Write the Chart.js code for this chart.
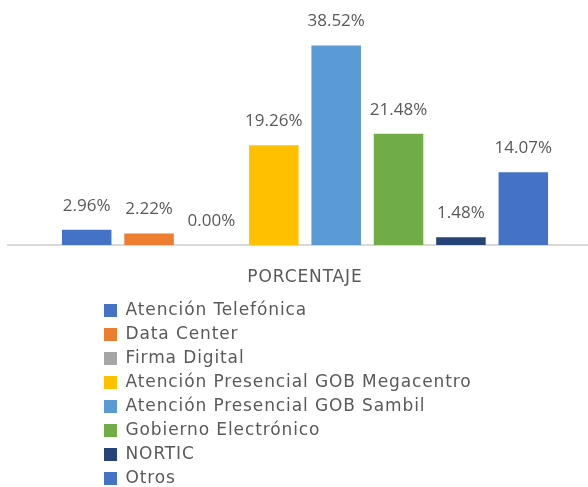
<!DOCTYPE html>
<html>
<head>
<meta charset="utf-8">
<script src="https://cdn.jsdelivr.net/npm/chart.js@4/dist/chart.umd.min.js"></script>
<style>
  html, body { margin: 0; padding: 0; background: #ffffff; overflow: hidden; }
  #wrap { width: 602px; height: 497px; }
</style>
</head>
<body>
<div id="wrap"><canvas id="c" width="602" height="497"></canvas></div>
<script>
// ---- data ----
const categories = ['PORCENTAJE'];
const seriesNames = [
  'Atención Telefónica',
  'Data Center',
  'Firma Digital',
  'Atención Presencial GOB Megacentro',
  'Atención Presencial GOB Sambil',
  'Gobierno Electrónico',
  'NORTIC',
  'Otros'
];
const seriesValues = [2.96, 2.22, 0.00, 19.26, 38.52, 21.48, 1.48, 14.07];
const seriesColors = ['#4472C4', '#ED7D31', '#A5A5A5', '#FFC000', '#5B9BD5', '#70AD47', '#264478', '#4472C4'];

const FONT = 'DejaVu Sans';
const LABEL_FONT = 'Open Sans';
const TEXT = '#595959';
const LEGEND_SIZE = 17;

// letter spacing so the legend text is as wide as in the reference
const mctx = document.createElement('canvas').getContext('2d');
mctx.font = LEGEND_SIZE + 'px "' + FONT + '"';
const longest = 'Atención Presencial GOB Megacentro';
const LS = Math.max(0, Math.min(1.5, (346 - mctx.measureText(longest).width) / longest.length));

const datasets = seriesNames.map((name, i) => ({
  label: name,
  data: [seriesValues[i]],
  backgroundColor: seriesColors[i],
  borderWidth: 0
}));

// value labels above bars
const valueLabels = {
  id: 'valueLabels',
  afterDatasetsDraw(chart) {
    const ctx = chart.ctx;
    ctx.save();
    if ('letterSpacing' in ctx) ctx.letterSpacing = '0px';
    ctx.font = '17px "' + LABEL_FONT + '"';
    ctx.fillStyle = TEXT;
    ctx.textAlign = 'center';
    ctx.textBaseline = 'middle';
    chart.data.datasets.forEach((ds, i) => {
      const meta = chart.getDatasetMeta(i);
      meta.data.forEach((bar, j) => {
        ctx.fillText(ds.data[j].toFixed(2) + '%', bar.x, bar.y - 24);
      });
    });
    ctx.restore();
  }
};

// one legend entry per row, left aligned; tracked text
const oneColumnLegend = {
  id: 'oneColumnLegend',
  beforeLayout(chart) {
    const lg = chart.legend;
    if (!lg || lg.__oneCol) return;
    lg.__oneCol = true;
    const fitRows = lg._fitRows;
    lg._fitRows = function (...args) {
      const save = this.maxWidth;
      this.maxWidth = 1;
      const h = fitRows.apply(this, args);
      this.maxWidth = save;
      return h;
    };
    const draw = lg._draw;
    lg._draw = function (...args) {
      const l = this.left, r = this.right;
      this.left = 104 - this.options.labels.padding;
      this.right = this.left + 1;
      draw.apply(this, args);
      this.left = l; this.right = r;
    };
  },
  beforeDraw(chart) {
    if ('letterSpacing' in chart.ctx) chart.ctx.letterSpacing = LS.toFixed(2) + 'px';
  },
  afterDraw(chart) {
    if ('letterSpacing' in chart.ctx) chart.ctx.letterSpacing = '0px';
  }
};

new Chart(document.getElementById('c'), {
  type: 'bar',
  data: { labels: categories, datasets },
  options: {
    responsive: false,
    animation: false,
    layout: { padding: { left: 8, right: 0, top: 12, bottom: 0 } },
    datasets: { bar: { categoryPercentage: 0.84, barPercentage: 0.794 } },
    scales: {
      x: {
        grid: { display: false, drawTicks: false },
        border: { display: true, color: '#d9d9d9', width: 2 },
        ticks: { color: TEXT, font: { family: FONT, size: 17 }, padding: 22 },
        afterFit(scale) { scale.height = 50; }
      },
      y: { display: false, min: 0, max: 45 }
    },
    plugins: {
      tooltip: { enabled: false },
      legend: {
        position: 'bottom',
        align: 'start',
        labels: {
          color: TEXT,
          font: { family: FONT, size: LEGEND_SIZE },
          boxWidth: 13,
          boxHeight: 13,
          padding: 7
        }
      }
    }
  },
  plugins: [valueLabels, oneColumnLegend]
});
</script>
</body>
</html>
